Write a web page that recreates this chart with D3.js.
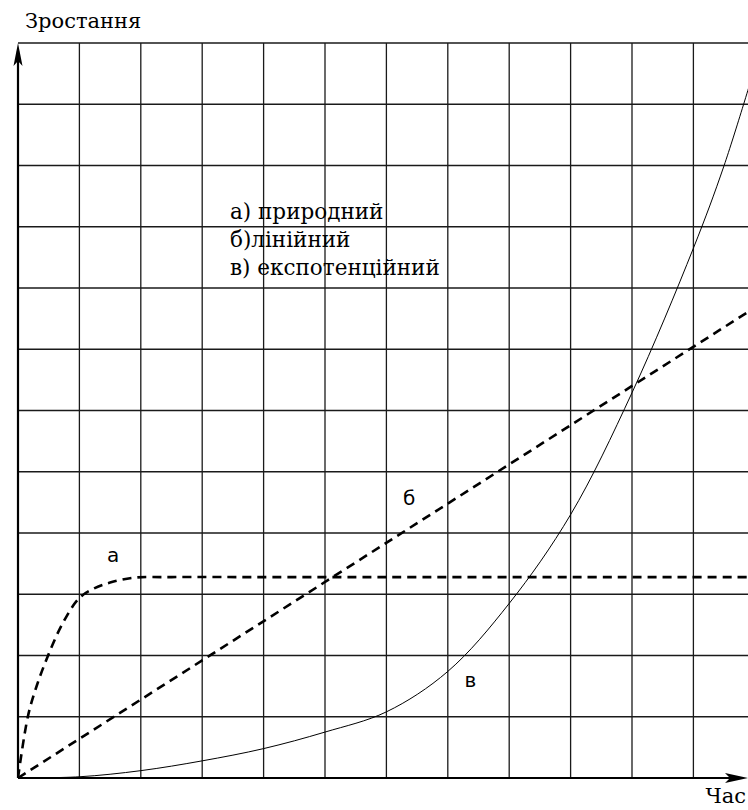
<!DOCTYPE html>
<html>
<head>
<meta charset="utf-8">
<script src="https://cdn.jsdelivr.net/npm/d3@7"></script>
<style>
  body { margin: 0; background: #fff; }
  svg { display: block; }
</style>
</head>
<body>
<div id="chart"></div>
<script>
// data (grid units)
const gridTicks = [0, 1, 2, 3, 4, 5, 6, 7, 8, 9, 10, 11, 12]

const timeNatural = [0, 0.16, 0.3, 0.49, 0.73, 1.0, 1.25, 1.5, 1.88, 2.5, 4, 12]
const natural = [0, 1.0, 1.49, 2.0, 2.53, 2.94, 3.1, 3.19, 3.27, 3.28, 3.28, 3.28]

const timeLinear = [0, 12]
const linear = [0, 7.68]

const timeExp = [0, 1, 2, 3, 4, 5, 6, 7, 8, 9, 10, 11, 11.5, 12]
const exponential = [0, 0.02, 0.12, 0.28, 0.48, 0.75, 1.08, 1.74, 2.85, 4.3, 6.29, 8.65, 10.0, 11.6]

const legendLines = ['а) природний', 'б)лінійний', 'в) експотенційний']
const curveLabels = [
  { text: 'а', t: 1.45, v: 3.52 },
  { text: 'б', t: 6.27, v: 4.45 },
  { text: 'в', t: 7.27, v: 1.48 },
]

const dimensions = {
  width: 748,
  height: 810,
  left: 18,
  top: 43,
  bottom: 778,
  cell: 61.4,
}

const xScale = d3.scaleLinear().domain([0, 12]).range([dimensions.left, dimensions.left + 12 * dimensions.cell])
const yScale = d3.scaleLinear().domain([0, 12]).range([dimensions.bottom, dimensions.top])

const svg = d3
  .select('#chart')
  .append('svg')
  .attr('width', dimensions.width)
  .attr('height', dimensions.height)

svg.append('defs').append('clipPath').attr('id', 'plot')
  .append('rect')
  .attr('x', dimensions.left)
  .attr('y', dimensions.top - 2)
  .attr('width', dimensions.width - dimensions.left)
  .attr('height', dimensions.bottom - dimensions.top + 2)

// grid
const grid = svg.append('g').attr('stroke', '#1a1a1a').attr('stroke-width', 1.3)
grid.selectAll('line.v')
  .data(gridTicks.slice(1))
  .join('line')
  .attr('class', 'v')
  .attr('x1', (d) => xScale(d))
  .attr('x2', (d) => xScale(d))
  .attr('y1', yScale(12))
  .attr('y2', yScale(0))
grid.selectAll('line.h')
  .data(gridTicks.slice(1))
  .join('line')
  .attr('class', 'h')
  .attr('x1', xScale(0))
  .attr('x2', dimensions.width)
  .attr('y1', (d) => yScale(d))
  .attr('y2', (d) => yScale(d))

// axes with arrows
svg.append('line')
  .attr('x1', xScale(0)).attr('x2', xScale(0))
  .attr('y1', yScale(0)).attr('y2', yScale(12) + 8)
  .attr('stroke', '#000').attr('stroke-width', 2.2)
svg.append('path')
  .attr('d', `M${xScale(0)},${yScale(12)} L${xScale(0) - 4.5},${yScale(12) + 23} L${xScale(0)},${yScale(12) + 18} L${xScale(0) + 4.5},${yScale(12) + 23} Z`)
  .attr('fill', '#000')
svg.append('line')
  .attr('x1', xScale(0)).attr('x2', 740)
  .attr('y1', yScale(0)).attr('y2', yScale(0))
  .attr('stroke', '#000').attr('stroke-width', 2.2)
svg.append('path')
  .attr('d', `M748,${yScale(0)} L725,${yScale(0) - 5} L730,${yScale(0)} L725,${yScale(0) + 5} Z`)
  .attr('fill', '#000')

// curves
const smoothLine = d3.line()
  .x((d) => xScale(d[0]))
  .y((d) => yScale(d[1]))
  .curve(d3.curveCatmullRom.alpha(0.5))

const plot = svg.append('g').attr('clip-path', 'url(#plot)').attr('fill', 'none').attr('stroke', '#000')

plot.append('path')
  .datum(d3.zip(timeNatural, natural))
  .attr('d', smoothLine)
  .attr('stroke-width', 2.6)
  .attr('stroke-dasharray', '9,6')

plot.append('path')
  .datum(d3.zip(timeLinear, linear))
  .attr('d', smoothLine)
  .attr('stroke-width', 2.6)
  .attr('stroke-dasharray', '9,6')

plot.append('path')
  .datum(d3.zip(timeExp, exponential))
  .attr('d', smoothLine)
  .attr('stroke-width', 1)

// texts
const serif = 'DejaVu Serif'

svg.append('text')
  .attr('x', 25).attr('y', 28)
  .style('font-family', serif)
  .style('font-size', '21px')
  .text('Зростання')

svg.append('text')
  .attr('x', 746).attr('y', 803)
  .attr('text-anchor', 'end')
  .style('font-family', serif)
  .style('font-size', '21px')
  .text('Час')

svg.append('g')
  .selectAll('text')
  .data(legendLines)
  .join('text')
  .attr('x', 230)
  .attr('y', (d, i) => 219 + i * 28)
  .style('font-family', serif)
  .style('font-size', '21.5px')
  .text((d) => d)

svg.append('g')
  .selectAll('text')
  .data(curveLabels)
  .join('text')
  .attr('x', (d) => xScale(d.t))
  .attr('y', (d) => yScale(d.v))
  .style('font-family', 'DejaVu Sans')
  .style('font-size', '20px')
  .text((d) => d.text)
</script>
</body>
</html>
